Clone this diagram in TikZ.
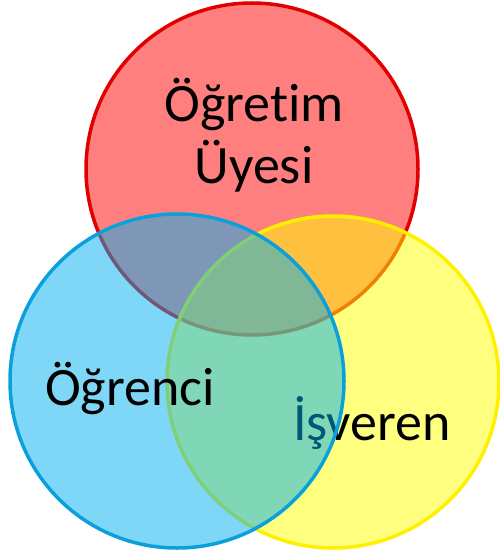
\documentclass[tikz,border=0pt]{standalone}
\usepackage{fontspec}
\setmainfont[Ligatures=NoCommon]{Carlito}
\usepackage{tikz}

\definecolor{redfill}{RGB}{255,0,0}
\definecolor{redline}{RGB}{225,0,0}
\definecolor{bluefill}{RGB}{0,176,240}
\definecolor{blueline}{RGB}{10,160,220}
\definecolor{yellowfill}{RGB}{255,255,0}
\definecolor{yellowline}{RGB}{255,240,0}

\begin{document}
\begin{tikzpicture}[x=1pt,y=-1pt, line width=3.5pt,
    set/.style={fill opacity=0.5, draw opacity=1},
    lbl/.style={anchor=base, inner sep=0pt, font=\fontsize{54}{60}\selectfont}]
    \useasboundingbox (0,0) rectangle (499,556);

    % Ogretim Uyesi
    \draw [set, fill=redfill, draw=redline] (252,169) circle (166);
    \node [lbl] (ogretim) at (254,122) {Öğretim};
    \node [lbl] (uyesi) at (254,183) {Üyesi};

    % Isveren
    \draw [set, fill=yellowfill, draw=yellowline] (333,382) circle (166);
    \node [lbl] (isveren) at (372,440) {İşveren};

    % Ogrenci
    \draw [set, fill=bluefill, draw=blueline] (177,381) circle (167);
    \node [lbl] (ogrenci) at (130,405) {Öğrenci};
\end{tikzpicture}
\end{document}
